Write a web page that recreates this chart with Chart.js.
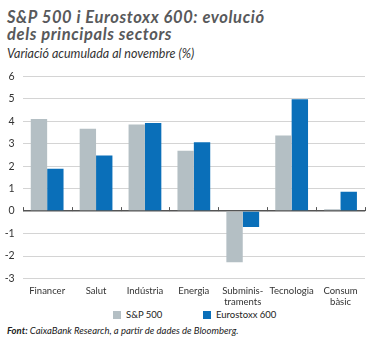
<!DOCTYPE html>
<html>
<head>
<meta charset="utf-8">
<script src="https://cdn.jsdelivr.net/npm/chart.js@4"></script>
<style>
  body { margin: 0; width: 379px; height: 338px; background: #fff; position: relative; overflow: hidden; font-family: Lato, sans-serif; }
  #title { position: absolute; left: 7px; top: 9px; font-size: 16.5px; font-weight: bold; font-style: italic; color: #58595b; line-height: 17px; letter-spacing: 0.6px; }
  #subtitle { position: absolute; left: 7px; top: 46px; font-size: 12.5px; font-style: italic; color: #333; }
  #source { position: absolute; left: 7px; top: 325px; font-size: 9.5px; font-style: italic; color: #222; }
  #wrap { position: absolute; left: 0; top: 62px; width: 379px; height: 247px; }
  #legend { position: absolute; top: 309px; left: 113px; font-size: 9.5px; color: #222; }
  #legend span { position: absolute; white-space: nowrap; top: 0; }
  #legend i { display: inline-block; width: 8px; height: 8px; margin-right: 5px; vertical-align: -1px; }
</style>
</head>
<body>
<div id="title">S&amp;P 500 i Eurostoxx 600: evolució<br>dels principals sectors</div>
<div id="subtitle">Variació acumulada al novembre (%)</div>
<div id="wrap"><canvas id="chart"></canvas></div>
<div id="legend"></div>
<div id="source"><b>Font:</b> CaixaBank Research, a partir de dades de Bloomberg.</div>
<script>
// Sector labels and values (%)
const sectors = ['Financer', 'Salut', 'Indústria', 'Energia', ['Subminis-', 'traments'], 'Tecnologia', ['Consum', 'bàsic']];
const seriesNames = ['S&P 500', 'Eurostoxx 600'];
const sp500 = [4.1, 3.67, 3.85, 2.69, -2.28, 3.36, 0.08];
const eurostoxx = [1.89, 2.48, 3.92, 3.06, -0.71, 4.98, 0.86];
const colors = ['#b4bfc4', '#0a6fb9'];

// small tick marks on the zero line at category boundaries
const zeroTicks = {
    id: 'zeroTicks',
    afterDatasetsDraw(chart) {
        const x = chart.scales.x, y = chart.scales.y;
        const y0 = y.getPixelForValue(0);
        const n = sectors.length;
        const ctx = chart.ctx;
        ctx.save();
        ctx.strokeStyle = '#555';
        ctx.lineWidth = 1;
        for (let i = 0; i <= n; i++) {
            const px = Math.round(x.left + i * (x.right - x.left) / n) + 0.5;
            ctx.beginPath();
            ctx.moveTo(px, y0 - 4);
            ctx.lineTo(px, y0);
            ctx.stroke();
        }
        ctx.restore();
    }
};

const chart = new Chart(document.getElementById('chart'), {
    type: 'bar',
    data: {
        labels: sectors,
        datasets: [{
            label: seriesNames[0],
            data: sp500,
            backgroundColor: colors[0],
            categoryPercentage: 0.67,
            barPercentage: 1
        }, {
            label: seriesNames[1],
            data: eurostoxx,
            backgroundColor: colors[1],
            categoryPercentage: 0.67,
            barPercentage: 1
        }]
    },
    options: {
        responsive: true,
        maintainAspectRatio: false,
        animation: false,
        layout: { padding: { top: 7.7, right: 14, left: 0, bottom: 0 } },
        plugins: {
            legend: { display: false },
            tooltip: { enabled: false }
        },
        scales: {
            y: {
                min: -3,
                max: 6,
                afterFit: (s) => { s.width = 22.7; },
                ticks: { stepSize: 1, color: '#333', padding: 8, font: { family: 'Lato', size: 10.5 } },
                grid: {
                    drawTicks: false,
                    color: (c) => c.tick && c.tick.value === 0 ? '#555' : '#d4d4d4',
                    lineWidth: (c) => c.tick && c.tick.value === 0 ? 1.5 : 1
                },
                border: { display: false }
            },
            x: {
                afterFit: (s) => { s.height = 30.5; },
                ticks: { color: '#333', padding: 7, autoSkip: false, maxRotation: 0, font: { family: 'Lato', size: 9.5, lineHeight: 1.15 } },
                grid: { display: false, drawTicks: false },
                border: { display: false }
            }
        }
    },
    plugins: [zeroTicks]
});

// legend built from the datasets
const legendEl = document.getElementById('legend');
chart.data.datasets.forEach(function(ds, i) {
    const item = document.createElement('span');
    item.style.left = (i * 90) + 'px';
    item.innerHTML = '<i style="background:' + ds.backgroundColor + '"></i>' + ds.label;
    legendEl.appendChild(item);
});
</script>
</body>
</html>
